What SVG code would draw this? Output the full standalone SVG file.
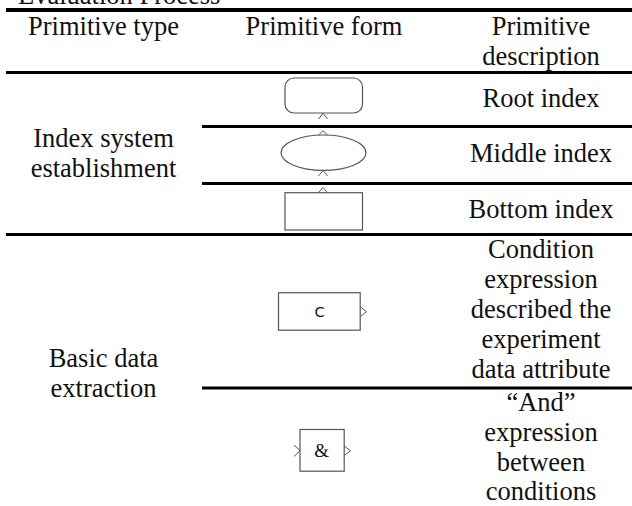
<svg xmlns="http://www.w3.org/2000/svg" width="632" height="506" viewBox="0 0 632 506" font-family="'Liberation Serif', 'Times New Roman', 'DejaVu Serif', serif">
  <style>
    text { font-size: 26.5px; fill: #111; text-anchor: middle; }
    .rule { stroke: #000; stroke-width: 3; fill: none; }
    .shape { fill: #fff; stroke: #555; stroke-width: 1.2; }
    .port { fill: none; stroke: #555; stroke-width: 1; }
    .amp { font-size: 19px; }
  </style>
  <rect width="632" height="506" fill="#fff"/>

  <!-- caption, partly above the frame -->
  <text x="18" y="3.5" text-anchor="start" style="text-anchor:start">Evaluation Process</text>

  <!-- table rules -->
  <g id="rules">
    <line class="rule" x1="6" y1="10" x2="632" y2="10" style="stroke-width:4"/>
    <line class="rule" x1="6" y1="72.5" x2="632" y2="72.5"/>
    <line class="rule" x1="202" y1="126.5" x2="632" y2="126.5"/>
    <line class="rule" x1="202" y1="183.5" x2="632" y2="183.5"/>
    <line class="rule" x1="6" y1="234.5" x2="632" y2="234.5"/>
    <line class="rule" x1="202" y1="388" x2="632" y2="388"/>
  </g>

  <!-- column headers -->
  <g id="header">
    <text x="103.5" y="35">Primitive type</text>
    <text x="324" y="35">Primitive form</text>
    <text x="541" y="35">Primitive</text>
    <text x="541" y="65">description</text>
  </g>

  <!-- primitive types -->
  <g id="type-index">
    <text x="103.5" y="147">Index system</text>
    <text x="103.5" y="177">establishment</text>
  </g>
  <g id="type-data">
    <text x="103.5" y="367">Basic data</text>
    <text x="103.5" y="397">extraction</text>
  </g>

  <!-- primitive forms -->
  <g id="root-index">
    <rect class="shape" x="285" y="78" width="77.5" height="35" rx="9"/>
    <polyline class="port" points="318.5,119 323,113.3 327.5,119"/>
  </g>
  <g id="middle-index">
    <ellipse class="shape" cx="323.5" cy="152.7" rx="42.5" ry="17.7"/>
    <polyline class="port" points="318.5,135 323,130.7 327.5,135"/>
    <polyline class="port" points="318.5,176 323,170.5 327.5,176"/>
  </g>
  <g id="bottom-index">
    <rect class="shape" x="285" y="192.7" width="77.5" height="37.3"/>
    <polyline class="port" points="318.5,192.7 323,187.5 327.5,192.7"/>
  </g>
  <g id="condition">
    <rect class="shape" x="278.5" y="292.7" width="81.7" height="37.5"/>
    <text x="319.5" y="316.8" font-family="'DejaVu Sans', 'Liberation Sans', sans-serif" style="font-size:14.5px">C</text>
    <polyline class="port" points="360.5,307 366.5,311.7 360.5,316.5"/>
  </g>
  <g id="and">
    <rect class="shape" x="300" y="429.5" width="44.2" height="41.7"/>
    <text class="amp" x="321.7" y="456.5">&amp;</text>
    <polyline class="port" points="294,445 300,450.7 294,456.5"/>
    <polyline class="port" points="344.2,446 350.5,450.7 344.2,455.5"/>
  </g>

  <!-- primitive descriptions -->
  <g id="desc-root"><text x="541" y="107">Root index</text></g>
  <g id="desc-middle"><text x="541" y="162">Middle index</text></g>
  <g id="desc-bottom"><text x="541" y="218">Bottom index</text></g>
  <g id="desc-condition">
    <text x="541" y="258">Condition</text>
    <text x="541" y="288">expression</text>
    <text x="541" y="318">described the</text>
    <text x="541" y="348">experiment</text>
    <text x="541" y="378">data attribute</text>
  </g>
  <g id="desc-and">
    <text x="541" y="411">“And”</text>
    <text x="541" y="441">expression</text>
    <text x="541" y="471">between</text>
    <text x="541" y="500">conditions</text>
  </g>
</svg>
